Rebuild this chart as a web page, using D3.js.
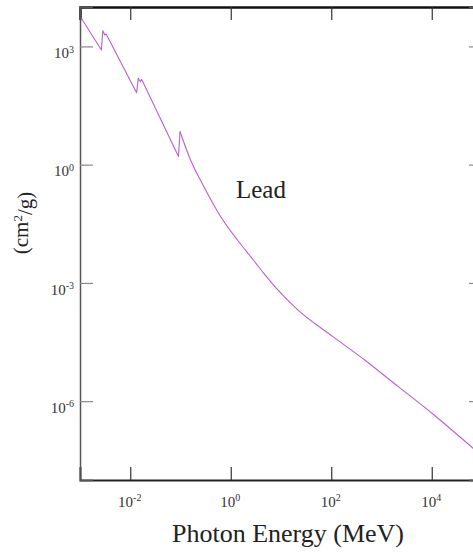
<!DOCTYPE html>
<html>
<head>
<meta charset="utf-8">
<script src="https://cdn.jsdelivr.net/npm/d3@7"></script>
<style>
  html, body { margin: 0; padding: 0; background: #fff; }
  svg { display: block; font-family: "Liberation Serif", "DejaVu Serif", serif; }
  svg text { font-family: "Liberation Serif", "DejaVu Serif", serif; }
</style>
</head>
<body>
<div id="chart"></div>
<script>
// photon energy (MeV) and mass attenuation (cm2/g)
const energy = [0.001062, 0.002667, 0.002844, 0.003119, 0.003311, 0.01337, 0.01445, 0.01585,
  0.01683, 0.0912, 0.0977, 0.1585, 0.2924, 0.631, 1.361, 2.924, 4.634, 7.943, 21.58,
  108.1, 463.4, 2158, 11120, 70150, 100000];
const attenuation = [5164, 811, 2506, 1950, 2065, 67.0, 155, 127,
  147, 1.61, 6.95, 1.315, 0.276, 0.0479, 0.01227, 0.0036, 0.001687, 0.000745, 0.000206,
  4.33e-5, 1.11e-5, 2.33e-6, 4.47e-7, 6.03e-8, 4.1e-8];
// index of the last absorption edge; the curve is smooth after it
const lastEdge = 10;

const xTicks = [1e-2, 1e0, 1e2, 1e4];
const xTickExp = ['-2', '0', '2', '4'];
const yTicks = [1e3, 1e0, 1e-3, 1e-6];
const yTickExp = ['3', '0', '-3', '-6'];

const width = 473, height = 554;
const margin = { left: 80, top: 7, right: 482, bottom: 480 };
const serif = '"Liberation Serif", "DejaVu Serif", serif';

const svg = d3.select('#chart')
  .append('svg')
  .attr('width', width)
  .attr('height', height);

const x = d3.scaleLog().domain([1e-3, 1e5]).range([margin.left, margin.right]);
const y = d3.scaleLog().domain([1e-8, 1e4]).range([margin.bottom, margin.top]);

// superscript labels "10^n"
function powLabel(sel, exps) {
  sel.each(function (d, i) {
    const t = d3.select(this);
    t.text(null);
    t.append('tspan').text('10');
    t.append('tspan').attr('dy', '-0.55em').attr('font-size', '10px').text(exps[i]);
  });
}

// bottom axis
const xAxis = svg.append('g')
  .attr('transform', `translate(0,${margin.bottom})`)
  .call(d3.axisBottom(x).tickValues(xTicks).tickSize(-13).tickPadding(16).tickFormat(''))
  .attr('font-family', serif);
xAxis.select('.domain').attr('stroke', '#222').attr('stroke-width', 2);
xAxis.selectAll('.tick line').attr('stroke', '#333').attr('stroke-width', 1.2);
xAxis.selectAll('.tick text')
  .attr('font-family', serif)
  .attr('font-size', '15px').attr('fill', '#333').attr('dx', '-1px')
  .call(powLabel, xTickExp);

// top axis, ticks only
const xTop = svg.append('g')
  .attr('transform', `translate(0,${margin.top})`)
  .call(d3.axisTop(x).tickValues(xTicks).tickSize(-13).tickFormat(''));
xTop.select('.domain').attr('stroke', '#111').attr('stroke-width', 2.5);
xTop.selectAll('.tick line').attr('stroke', '#333').attr('stroke-width', 1.2);

// left axis
const yAxis = svg.append('g')
  .attr('transform', `translate(${margin.left},0)`)
  .call(d3.axisLeft(y).tickValues(yTicks).tickSize(-13).tickPadding(6).tickFormat(''))
  .attr('font-family', serif);
yAxis.select('.domain').attr('stroke', '#555').attr('stroke-width', 1.5);
yAxis.selectAll('.tick line').attr('stroke', '#888').attr('stroke-width', 1.2);
yAxis.selectAll('.tick text')
  .attr('font-family', serif)
  .attr('font-size', '15px').attr('fill', '#333').attr('dy', '0.75em')
  .call(powLabel, yTickExp);

// right axis, ticks only (cut off by the picture edge)
const yRight = svg.append('g')
  .attr('transform', `translate(${margin.right},0)`)
  .call(d3.axisRight(y).tickValues(yTicks).tickSize(-13).tickFormat(''));
yRight.select('.domain').attr('stroke', '#555').attr('stroke-width', 1.5);
yRight.selectAll('.tick line').attr('stroke', '#888').attr('stroke-width', 1.2);

// curve: straight pieces through the edges, smooth afterwards
const points = energy.map((e, i) => [e, attenuation[i]]);
const edgeLine = d3.line()
  .x(d => x(d[0]))
  .y(d => y(d[1]));
const smoothLine = d3.line()
  .x(d => x(d[0]))
  .y(d => y(d[1]))
  .curve(d3.curveMonotoneX);

const curve = svg.append('g')
  .attr('fill', 'none')
  .attr('stroke', '#b860cc')
  .attr('stroke-width', 1.1)
  .attr('stroke-linejoin', 'round');

curve.append('path')
  .datum(points.slice(0, lastEdge + 1))
  .attr('d', edgeLine);

curve.append('path')
  .datum(points.slice(lastEdge))
  .attr('d', smoothLine);

// labels
svg.append('text')
  .attr('x', 236)
  .attr('y', 198)
  .attr('font-size', '25px')
  .attr('fill', '#222')
  .text('Lead');

svg.append('text')
  .attr('x', (170 + 406) / 2)
  .attr('y', 542)
  .attr('text-anchor', 'middle')
  .attr('font-size', '26px')
  .attr('fill', '#222')
  .text('Photon Energy (MeV)');

const yTitle = svg.append('text')
  .attr('transform', 'translate(28,223) rotate(-90)')
  .attr('text-anchor', 'middle')
  .attr('font-size', '21px')
  .attr('fill', '#222');
yTitle.append('tspan').text('(cm');
yTitle.append('tspan').attr('dy', '-0.5em').attr('font-size', '13px').text('2');
yTitle.append('tspan').attr('dy', '0.5em').text('/g)');
</script>
</body>
</html>
